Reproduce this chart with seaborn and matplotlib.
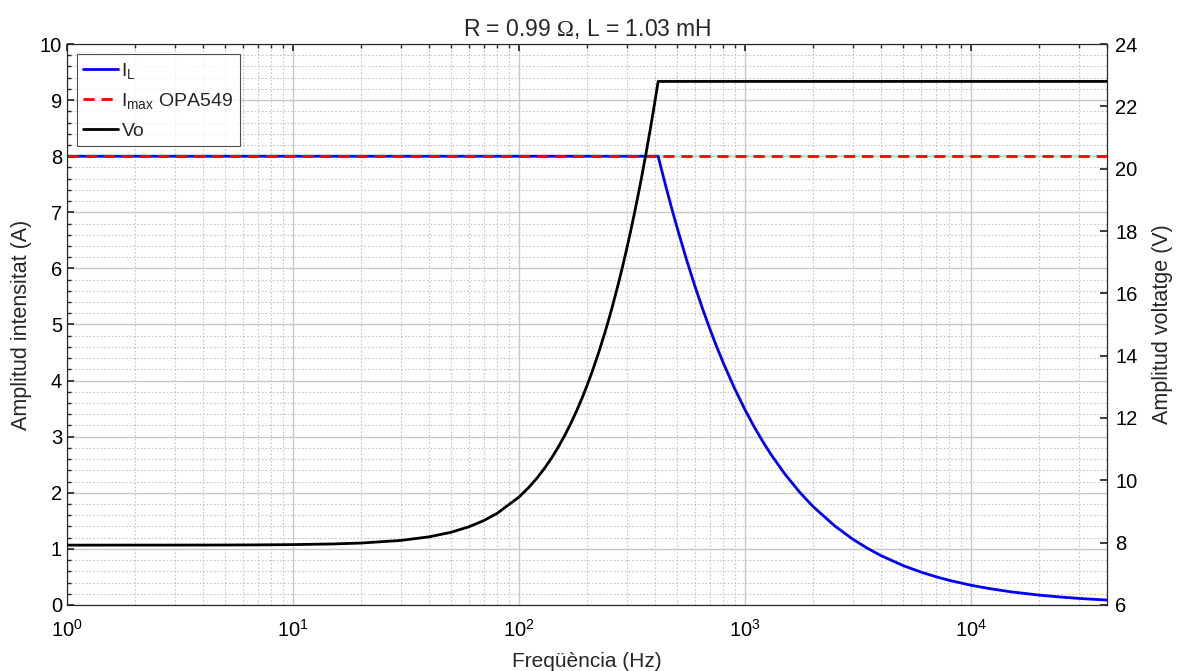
import numpy as np
import pandas as pd
import seaborn as sns
import matplotlib.pyplot as plt
from matplotlib.ticker import LogLocator, MultipleLocator, NullFormatter
from matplotlib.lines import Line2D

# Frequency sweep (Hz)
freq_hz = [1, 2, 3, 5, 7, 10, 15, 20, 30, 40, 50, 60, 70, 80, 100, 110, 120,
           130, 140, 150, 160, 170, 180, 190, 200, 210, 225, 240, 250, 260,
           275, 290, 300, 310, 325, 340, 350, 365, 380, 390, 400, 413, 430,
           450, 475, 500, 550, 600, 650, 700, 750, 800, 900, 1000, 1100, 1200,
           1300, 1500, 1750, 2000, 2500, 3000, 3500, 4000, 5000, 6000, 7000,
           8000, 10000, 12000, 15000, 20000, 25000, 30000, 35000, 40000]

# Load current amplitude (A)
i_load = [8.0] * 42 + [
    7.719, 7.412, 7.060, 6.738, 6.171, 5.690, 5.276, 4.917, 4.603, 4.325,
    3.859, 3.483, 3.172, 2.912, 2.691, 2.337, 2.006, 1.756, 1.407, 1.173,
    1.006, 0.880, 0.704, 0.587, 0.503, 0.440, 0.352, 0.294, 0.235, 0.176,
    0.141, 0.117, 0.101, 0.088]

# Output voltage amplitude (V)
v_out = [7.920, 7.921, 7.922, 7.924, 7.928, 7.937, 7.958, 7.987, 8.071, 8.186,
         8.332, 8.507, 8.710, 8.938, 9.462, 9.755, 10.066, 10.394, 10.736,
         11.092, 11.461, 11.840, 12.230, 12.629, 13.036, 13.451, 14.086,
         14.735, 15.174, 15.618, 16.292, 16.975, 17.435, 17.898, 18.597,
         19.303, 19.776, 20.490, 21.208, 21.689, 22.172, 22.8] + [22.8] * 34

# OPA549 current limit (A)
i_max = [8.0] * len(freq_hz)

df = pd.DataFrame({"f": freq_hz, "IL": i_load, "Vo": v_out, "Imax": i_max})

sns.set_theme(style="white")
plt.rcParams["font.family"] = ["Liberation Sans", "DejaVu Sans"]
plt.rcParams["mathtext.fontset"] = "custom"
plt.rcParams["mathtext.rm"] = "Liberation Sans"
plt.rcParams["mathtext.it"] = "Liberation Sans"
plt.rcParams["mathtext.sf"] = "Liberation Serif"
plt.rcParams["mathtext.default"] = "regular"

fig = plt.figure(figsize=(11.77, 6.71), dpi=100)
ax = fig.add_axes([0.0569, 0.0984, 0.8836, 0.836])
ax2 = ax.twinx()

sns.lineplot(data=df, x="f", y="IL", ax=ax, color="#0000ff", lw=2, zorder=3)
sns.lineplot(data=df, x="f", y="Imax", ax=ax, color="#ff0000", lw=2,
             dashes=False, zorder=4)
ax.lines[-1].set_linestyle((0, (4, 2.5)))
sns.lineplot(data=df, x="f", y="Vo", ax=ax2, color="black", lw=2, zorder=3)

ax.set_xscale("log")
ax.set_xlim(1, 40000)
ax.set_ylim(0, 10)
ax2.set_ylim(6, 24)
ax.yaxis.set_major_locator(MultipleLocator(1))
ax.yaxis.set_minor_locator(MultipleLocator(0.2))
ax2.yaxis.set_major_locator(MultipleLocator(2))
ax.xaxis.set_major_locator(LogLocator(base=10, numticks=10))
ax.xaxis.set_minor_locator(LogLocator(base=10, subs=np.arange(2, 10), numticks=20))
ax.xaxis.set_minor_formatter(NullFormatter())

ax.grid(True, which="major", color="#c8c8c8", lw=1.0, ls="-")
ax.grid(True, which="minor", color="#c4c4c4", lw=0.8, ls=(0, (1.5, 1.8)))
ax.set_axisbelow(True)
ax2.grid(False)

tick_col = "#262626"
for a in (ax, ax2):
    a.tick_params(which="both", direction="in", colors=tick_col, labelsize=14.5,
                  labelcolor="black")
    for s in a.spines.values():
        s.set_color("#262626")
        s.set_linewidth(0.8)
ax.tick_params(which="major", length=5, top=True)
ax.tick_params(which="minor", length=3, top=True)
ax.tick_params(axis="y", which="both", right=False)
ax2.tick_params(axis="y", which="major", length=5, pad=6)
ax.tick_params(axis="x", pad=10)

ax.set_xlabel("Freqüència (Hz)", fontsize=15, labelpad=8)
ax.set_ylabel("Amplitud intensitat (A)", fontsize=15.5, labelpad=6)
ax2.set_ylabel("Amplitud voltatge (V)", fontsize=15.5, labelpad=10)
ax.set_title(r"R = 0.99 $\mathsf{\Omega}$, L = 1.03 mH", fontsize=16.5, pad=6)

handles = [
    Line2D([], [], color="#0000ff", lw=2),
    Line2D([], [], color="#ff0000", lw=2, ls=(0, (4, 2.5))),
    Line2D([], [], color="black", lw=2),
]
labels = [r"I$_{\mathrm{L}}$", r"I$_{\mathrm{max}}$ OPA549", "Vo"]
leg = ax2.legend(handles, labels, loc="upper left", fontsize=14,
                 frameon=True, fancybox=False, edgecolor="#262626",
                 handlelength=1.8, handletextpad=0.15, borderpad=0.35,
                 labelspacing=0.55, borderaxespad=0.5)
leg.get_frame().set_linewidth(0.8)

fig.savefig("out.png", dpi=100)
